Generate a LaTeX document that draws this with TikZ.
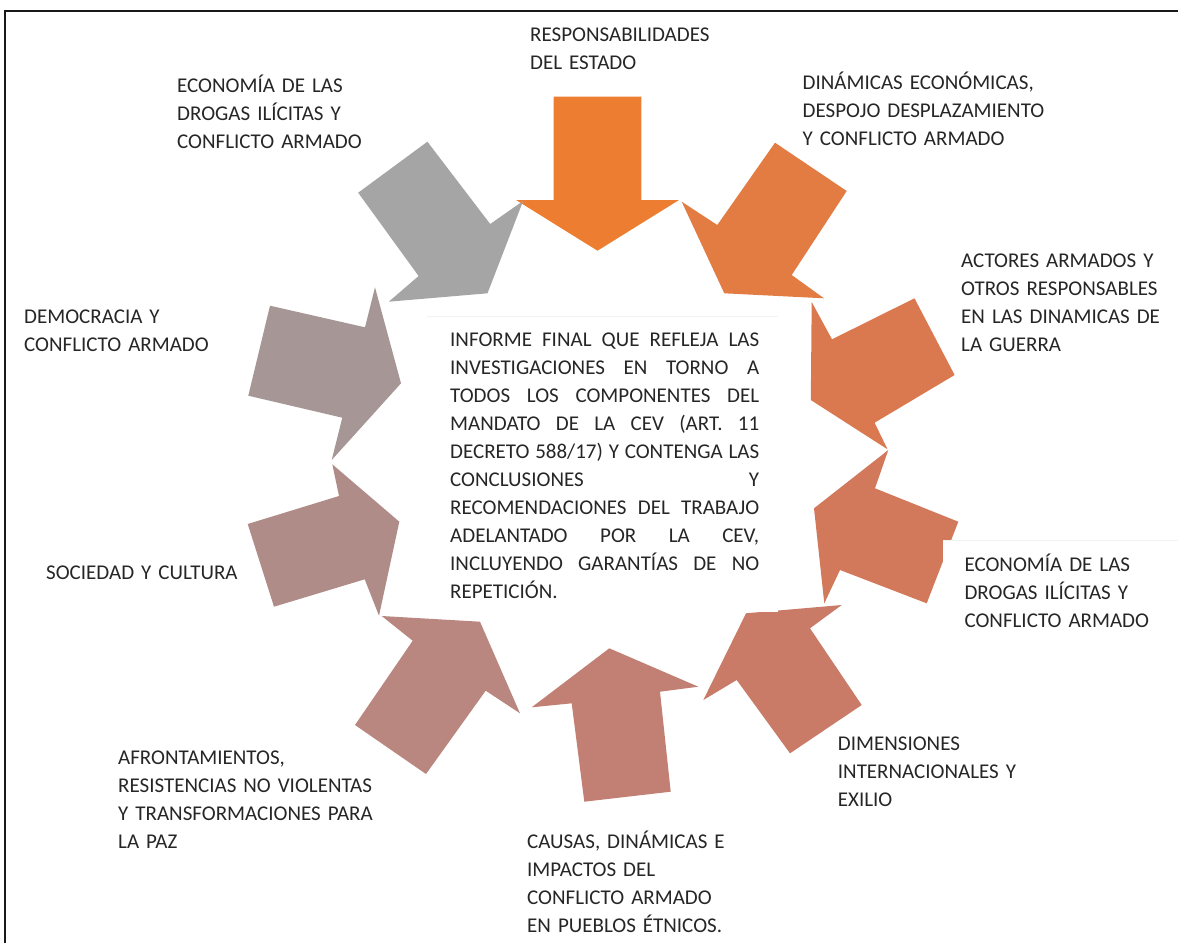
\documentclass[tikz,border=0pt]{standalone}
\usepackage{fontspec}
\setmainfont{Carlito}
\definecolor{txt}{RGB}{38,38,38}
\definecolor{frame}{RGB}{25,25,25}
\definecolor{cA}{RGB}{237,125,49}
\definecolor{cB}{RGB}{226,124,66}
\definecolor{cC}{RGB}{218,121,79}
\definecolor{cD}{RGB}{210,121,91}
\definecolor{cE}{RGB}{201,123,104}
\definecolor{cF}{RGB}{193,128,115}
\definecolor{cG}{RGB}{185,135,127}
\definecolor{cH}{RGB}{176,140,137}
\definecolor{cI}{RGB}{167,150,150}
\definecolor{cJ}{RGB}{165,165,165}
\tikzset{
  lbl/.style={font=\fontsize{21}{28}\selectfont, text=txt, text width=400pt, align=left, inner sep=0pt, anchor=base west},
  ctext/.style={font=\fontsize{21}{28}\selectfont, text=txt, text width=309pt, align=left, inner sep=0pt, anchor=base west},
  bigarrow/.style={fill=#1, draw=none},
  whitebox/.style={fill=white, draw=none}
}
\newcommand{\jl}[1]{\leavevmode\hbox to 309pt{\spaceskip=0.226em plus 1fil\relax #1}}
\begin{document}
\begin{tikzpicture}[x=1pt,y=-1pt]
\useasboundingbox (0,0) rectangle (1178,943);
\fill[white] (0,0) rectangle (1178,943);
% frame (top and left edges visible)
\draw[frame, line width=1.7pt] (4.8,943) -- (4.8,10.8) -- (1178,10.8);

% arrows
\fill[bigarrow=cA] (553.7,96.7) -- (641.4,96.7) -- (641.4,200) -- (679,200) -- (597.5,250.7) -- (516,200) -- (553.7,200) -- cycle;
\fill[bigarrow=cB] (775,142.7) -- (846.7,191) -- (791.7,275) -- (824,298.3) -- (724.3,293.3) -- (681.7,201.7) -- (717.3,225) -- cycle;
\fill[bigarrow=cC] (914.5,298.3) -- (954.6,375) -- (874.6,422.7) -- (887.5,449.3) -- (810.8,400) -- (811.7,302) -- (832,339.3) -- cycle;
\fill[bigarrow=cD] (958.3,521.7) -- (926.7,603.3) -- (840,570) -- (824.3,603.3) -- (814,508.3) -- (888.3,450) -- (875,488.3) -- cycle;
\fill[bigarrow=cE] (841.7,605) -- (810,628.3) -- (861.7,705) -- (790,753.3) -- (736.7,680) -- (703.3,700) -- (746,613.3) -- cycle;
\fill[bigarrow=cF] (531.7,707.3) -- (571.7,703.3) -- (584.3,801.7) -- (670.7,791.7) -- (660,691.7) -- (698.3,686.7) -- (609.3,648.3) -- cycle;
\fill[bigarrow=cG] (381.7,616) -- (412.7,640.7) -- (355,725) -- (426,774) -- (485.7,690.7) -- (520,713.3) -- (480,621.7) -- cycle;
\fill[bigarrow=cH] (247.7,524) -- (339,496) -- (332.3,464.3) -- (399.3,521.7) -- (379,615.7) -- (364.7,579.3) -- (274,606.7) -- cycle;
\fill[bigarrow=cI] (270,305.7) -- (365,327.3) -- (375,287.3) -- (401,383.3) -- (331.7,460) -- (342.3,417.7) -- (248.3,395.7) -- cycle;
\fill[bigarrow=cJ] (427.4,141.7) -- (490.2,224) -- (523.1,201) -- (487.5,293.3) -- (388.8,301.7) -- (418.6,276) -- (358.2,192.7) -- cycle;

% white text boxes
\fill[whitebox] (427,316) rectangle (778,612);
\draw[black!5] (427,316) -- (778,316);
\fill[whitebox] (943,540) rectangle (1178,650);
\draw[black!5] (943,540) -- (1178,540);

% central text
\node[ctext] (centro) at (450,346.8) {%
\jl{INFORME FINAL QUE REFLEJA LAS}\\
\jl{INVESTIGACIONES EN TORNO A}\\
\jl{TODOS LOS COMPONENTES DEL}\\
\jl{MANDATO DE LA CEV (ART. 11}\\
\jl{DECRETO 588/17) Y CONTENGA LAS}\\
\jl{CONCLUSIONES Y}\\
\jl{RECOMENDACIONES DEL TRABAJO}\\
\jl{ADELANTADO POR LA CEV,}\\
\jl{INCLUYENDO GARANTÍAS DE NO}\\
REPETICIÓN.};

% labels
\node[lbl] (resp) at (530,41.8) {RESPONSABILIDADES\\DEL ESTADO};
\node[lbl] (econtl) at (177,92.3) {ECONOMÍA DE LAS\\DROGAS ILÍCITAS Y\\CONFLICTO ARMADO};
\node[lbl] (dinam) at (802.5,89.4) {DINÁMICAS ECONÓMICAS,\\DESPOJO DESPLAZAMIENTO\\Y CONFLICTO ARMADO};
\node[lbl] (actores) at (961,267.4) {ACTORES ARMADOS Y\\OTROS RESPONSABLES\\EN LAS DINAMICAS DE\\LA GUERRA};
\node[lbl] (econr) at (964.3,571.8) {ECONOMÍA DE LAS\\DROGAS ILÍCITAS Y\\CONFLICTO ARMADO};
\node[lbl] (dimen) at (837.7,750) {DIMENSIONES\\INTERNACIONALES Y\\EXILIO};
\node[lbl] (causas) at (527,848.4) {CAUSAS, DINÁMICAS E\\IMPACTOS DEL\\CONFLICTO ARMADO\\EN PUEBLOS ÉTNICOS.};
\node[lbl] (afront) at (118,764.8) {AFRONTAMIENTOS,\\RESISTENCIAS NO VIOLENTAS\\Y TRANSFORMACIONES PARA\\LA PAZ};
\node[lbl] (soc) at (46,579.8) {SOCIEDAD Y CULTURA};
\node[lbl] (demo) at (24,323.8) {DEMOCRACIA Y\\CONFLICTO ARMADO};
\end{tikzpicture}
\end{document}
